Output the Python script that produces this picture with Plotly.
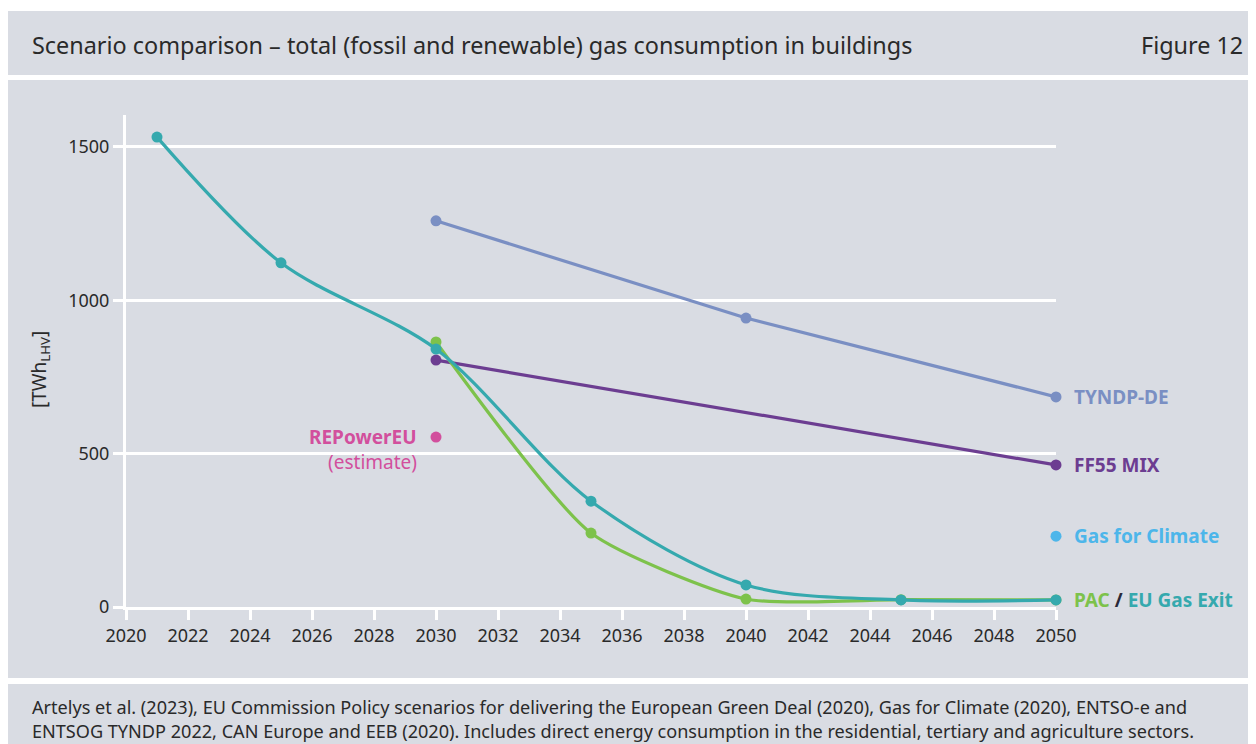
import plotly.graph_objects as go

# ---------------- data ----------------
years_exit = [2021, 2025, 2030, 2035, 2040, 2045, 2050]
eu_gas_exit = [1532, 1122, 841, 345, 72, 23, 23]

years_pac = [2030, 2035, 2040, 2045, 2050]
pac = [864, 241, 26, 24, 23]

years_ff55 = [2030, 2050]
ff55_mix = [805, 463]

years_tyndp = [2030, 2040, 2050]
tyndp_de = [1259, 942, 685]

years_repower = [2030]
repower_eu = [554]

years_g4c = [2050]
gas_for_climate = [231]

x_ticks = list(range(2020, 2051, 2))
y_ticks = [0, 500, 1000, 1500]

title_text = "Scenario comparison – total (fossil and renewable) gas consumption in buildings"
figure_label = "Figure 12"
source_text = ("Artelys et al. (2023), EU Commission Policy scenarios for delivering the European Green Deal (2020), "
               "Gas for Climate (2020), ENTSO-e and<br>ENTSOG TYNDP 2022, CAN Europe and EEB (2020). "
               "Includes direct energy consumption in the residential, tertiary and agriculture sectors.")

# ---------------- style ----------------
# page body has an 8px margin; figure coordinates = screen coordinates - 8
OFF = 8
W, H = 1248, 736
ML, MR, MT, MB = 118, 200, 107, 137
PW, PH = W - ML - MR, H - MT - MB
BG = "#D9DCE3"
TXT = "#2a2a2a"
FONT = "Noto Sans"
C_EXIT = "#35A9AE"
C_PAC = "#7DC24B"
C_FF55 = "#6C3D91"
C_TYNDP = "#7A8FC3"
C_REP = "#D24F9D"
C_G4C = "#4DB6EA"


def px_x(p):
    return (p - OFF - ML) / PW


def px_y(p):
    return (H - MB - (p - OFF)) / PH


fig = go.Figure()

line_w = 3.2
msize = 11

fig.add_trace(go.Scatter(x=years_tyndp, y=tyndp_de, mode="lines+markers", cliponaxis=False,
                         line=dict(color=C_TYNDP, width=line_w),
                         marker=dict(size=msize, color=C_TYNDP), name="TYNDP-DE"))
fig.add_trace(go.Scatter(x=years_ff55, y=ff55_mix, mode="lines+markers", cliponaxis=False,
                         line=dict(color=C_FF55, width=line_w),
                         marker=dict(size=msize, color=C_FF55), name="FF55 MIX"))
fig.add_trace(go.Scatter(x=years_pac, y=pac, mode="lines+markers", cliponaxis=False,
                         line=dict(color=C_PAC, width=line_w, shape="spline", smoothing=0.6),
                         marker=dict(size=msize, color=C_PAC), name="PAC"))
fig.add_trace(go.Scatter(x=years_exit, y=eu_gas_exit, mode="lines+markers", cliponaxis=False,
                         line=dict(color=C_EXIT, width=line_w, shape="spline", smoothing=0.9),
                         marker=dict(size=msize, color=C_EXIT), name="EU Gas Exit"))
fig.add_trace(go.Scatter(x=years_repower, y=repower_eu, mode="markers", cliponaxis=False,
                         marker=dict(size=msize, color=C_REP), name="REPowerEU"))
fig.add_trace(go.Scatter(x=years_g4c, y=gas_for_climate, mode="markers", cliponaxis=False,
                         marker=dict(size=msize, color=C_G4C), name="Gas for Climate"))

# background boxes (screen px)
shapes = []
for (y0, y1) in [(11, 75), (80, 678), (684, 752)]:
    shapes.append(dict(type="rect", xref="paper", yref="paper",
                       x0=px_x(8), x1=px_x(1260), y0=px_y(y1), y1=px_y(y0),
                       fillcolor=BG, line=dict(width=0), layer="below"))

lab_font = 19
annotations = [
    dict(text=title_text, xref="paper", yref="paper", x=px_x(30), y=px_y(45),
         xanchor="left", yanchor="middle", showarrow=False,
         font=dict(family=FONT, size=23.4, color=TXT)),
    dict(text=figure_label, xref="paper", yref="paper", x=px_x(1245), y=px_y(45),
         xanchor="right", yanchor="middle", showarrow=False,
         font=dict(family=FONT, size=23.4, color=TXT)),
    dict(text=source_text, xref="paper", yref="paper", x=px_x(30), y=px_y(719),
         xanchor="left", yanchor="middle", align="left", showarrow=False,
         font=dict(family=FONT, size=18.1, color=TXT)),
    dict(text="[TWh<sub>LHV</sub>]", xref="paper", yref="paper", x=px_x(40), y=px_y(370),
         xanchor="center", yanchor="middle", textangle=-90, showarrow=False,
         font=dict(family=FONT, size=19, color=TXT)),
    dict(text="<b>TYNDP-DE</b>", xref="x", yref="y", x=years_tyndp[-1], y=tyndp_de[-1],
         xshift=16, xanchor="left", yanchor="middle", showarrow=False,
         font=dict(family=FONT, size=lab_font, color=C_TYNDP)),
    dict(text="<b>FF55 MIX</b>", xref="x", yref="y", x=years_ff55[-1], y=ff55_mix[-1],
         xshift=16, xanchor="left", yanchor="middle", showarrow=False,
         font=dict(family=FONT, size=lab_font, color=C_FF55)),
    dict(text="<b>Gas for Climate</b>", xref="x", yref="y", x=years_g4c[-1], y=gas_for_climate[-1],
         xshift=16, xanchor="left", yanchor="middle", showarrow=False,
         font=dict(family=FONT, size=lab_font, color=C_G4C)),
    dict(text=f"<b><span style='color:{C_PAC}'>PAC</span> <span style='color:#2a2a3a'>/</span> "
              f"<span style='color:{C_EXIT}'>EU Gas Exit</span></b>",
         xref="x", yref="y", x=years_exit[-1], y=eu_gas_exit[-1],
         xshift=16, xanchor="left", yanchor="middle", showarrow=False,
         font=dict(family=FONT, size=lab_font, color=C_EXIT)),
    dict(text="<b>REPowerEU</b>", xref="x", yref="y", x=years_repower[0], y=repower_eu[0],
         xshift=-17, xanchor="right", yanchor="middle", showarrow=False,
         font=dict(family=FONT, size=lab_font, color=C_REP)),
    dict(text="(estimate)", xref="x", yref="y", x=years_repower[0], y=repower_eu[0],
         xshift=-17, yshift=-25, xanchor="right", yanchor="middle", showarrow=False,
         font=dict(family=FONT, size=lab_font, color=C_REP)),
]

fig.update_layout(
    width=W, height=H,
    margin=dict(l=ML, r=MR, t=MT, b=MB, autoexpand=False),
    paper_bgcolor="white", plot_bgcolor=BG,
    showlegend=False,
    shapes=shapes, annotations=annotations,
    font=dict(family=FONT, color=TXT),
)
fig.update_xaxes(range=[2020, 2050], tickvals=x_ticks, ticktext=[str(t) for t in x_ticks],
                 showgrid=False, zeroline=False, showline=True, linecolor="white", linewidth=3,
                 ticks="outside", ticklen=10, tickwidth=3, tickcolor="white",
                 tickfont=dict(family=FONT, size=18, color=TXT))
fig.update_yaxes(range=[0, 1604], tickvals=y_ticks, ticktext=[str(t) for t in y_ticks],
                 showgrid=True, gridcolor="white", gridwidth=3, zeroline=False,
                 showline=True, linecolor="white", linewidth=3,
                 ticks="outside", ticklen=10, tickwidth=3, tickcolor="white",
                 tickfont=dict(family=FONT, size=18, color=TXT))

fig.write_html("out.html")
